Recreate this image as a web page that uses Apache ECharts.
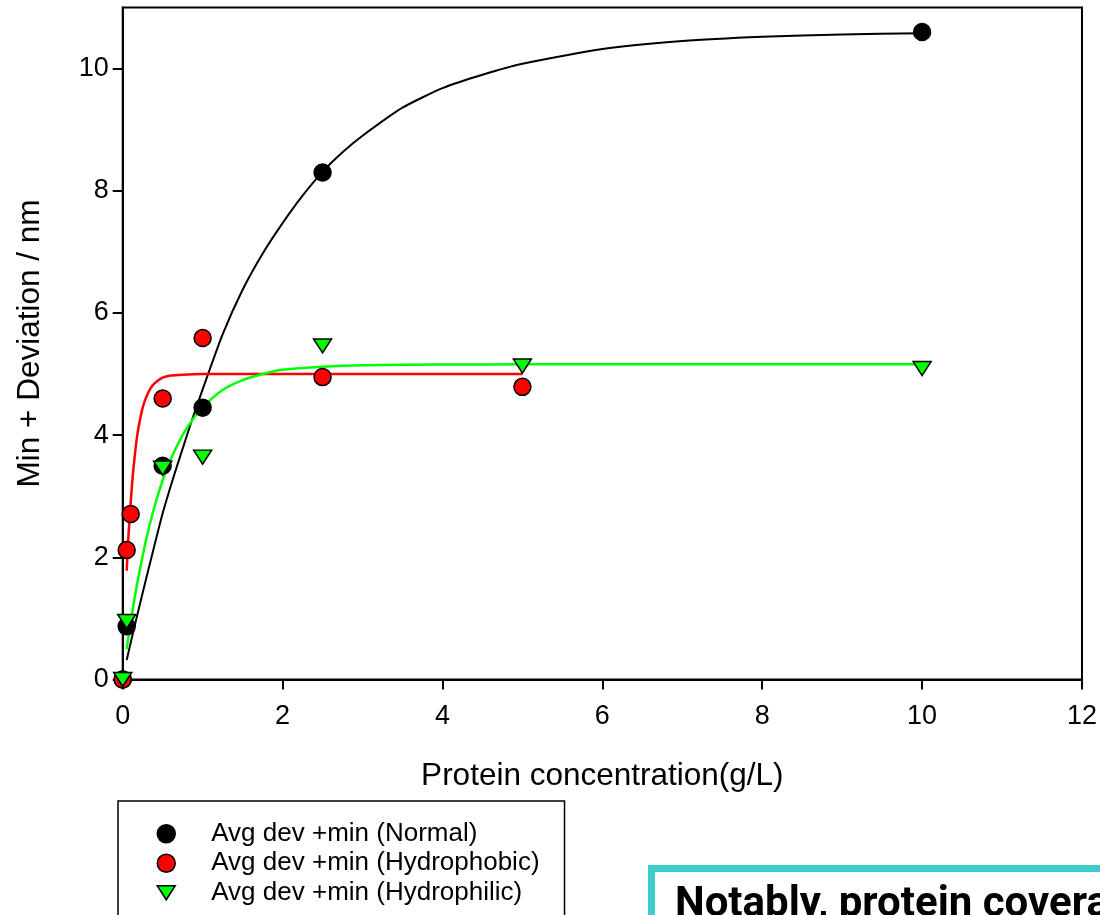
<!DOCTYPE html>
<html><head><meta charset="utf-8">
<script src="https://cdn.jsdelivr.net/npm/echarts@6/dist/echarts.min.js"></script>
<style>html,body{margin:0;padding:0;background:#fff}#c{width:1100px;height:915px}</style>
</head><body><div id="c"></div>
<script>
// ---- data ----
const xTicks = [0, 2, 4, 6, 8, 10, 12];
const yTicks = [0, 2, 4, 6, 8, 10];

const normalX = [0, 0.05, 0.5, 1, 2.5, 10];
const normalY = [0, 0.87, 3.5, 4.45, 8.3, 10.6];
const hydrophobicX = [0, 0.05, 0.1, 0.5, 1, 2.5, 5];
const hydrophobicY = [0, 2.12, 2.71, 4.6, 5.59, 4.95, 4.79];
const hydrophilicX = [0, 0.05, 0.5, 1, 2.5, 5, 10];
const hydrophilicY = [0, 0.95, 3.46, 3.64, 5.46, 5.13, 5.09];

// fitted curves, points
const normalFitX = [0.05, 0.15, 0.25, 0.375, 0.5, 0.625, 0.75, 0.875, 1, 1.25, 1.5, 1.75, 2, 2.25, 2.5, 2.75, 3, 3.5, 4, 4.5, 5, 6, 7, 8, 9, 10];
const normalFitY = [0.32, 0.88, 1.42, 2.08, 2.72, 3.27, 3.78, 4.28, 4.75, 5.65, 6.38, 6.97, 7.47, 7.92, 8.31, 8.63, 8.9, 9.36, 9.68, 9.9, 10.08, 10.32, 10.45, 10.52, 10.56, 10.58];
const hydrophobicFitX = [0.05, 0.075, 0.1, 0.125, 0.15, 0.175, 0.2, 0.25, 0.3, 0.35, 0.4, 0.5, 0.6, 0.75, 1, 2, 5];
const hydrophobicFitY = [1.78, 2.42, 2.9, 3.33, 3.65, 3.93, 4.14, 4.45, 4.64, 4.77, 4.85, 4.94, 4.975, 4.99, 5.0, 5.0, 5.0];
const hydrophilicFitX = [0.05, 0.1, 0.15, 0.2, 0.3, 0.4, 0.5, 0.6, 0.75, 0.9, 1, 1.25, 1.5, 1.75, 2, 2.5, 3, 4, 5, 10];
const hydrophilicFitY = [0.5, 0.94, 1.34, 1.7, 2.33, 2.84, 3.26, 3.6, 4.0, 4.3, 4.46, 4.74, 4.9, 5.0, 5.07, 5.12, 5.145, 5.155, 5.16, 5.16];

const seriesNames = ['Avg dev +min (Normal)', 'Avg dev +min (Hydrophobic)', 'Avg dev +min (Hydrophilic)'];
const xTitle = 'Protein concentration(g/L)';
const yTitle = 'Min + Deviation / nm';
const noteText = 'Notably, protein coverage';

// ---- build ----
const pair = (xs, ys) => xs.map((x, i) => [x, ys[i]]);
const FONT = 'Arial, "Liberation Sans", sans-serif';
const chart = echarts.init(document.getElementById('c'), null, {renderer: 'canvas'});

const fitLine = (data, color, w) => ({
  type: 'line', data, smooth: 0.2, symbol: 'none',
  lineStyle: {color, width: w}, z: 2, silent: true, legendHoverLink: false
});
// downward triangle, padded bounding box so it sits like the circle markers
const trianglePath = 'path://M-0.5,-2 M0,0 L18,0 L9,14 Z M18.5,16';

chart.setOption({
  animation: false,
  backgroundColor: '#fff',
  grid: {left: 122.7, right: 17.3, top: 7.5, bottom: 235.5, show: true, borderColor: '#000', borderWidth: 2},
  xAxis: {
    type: 'value', min: 0, max: 12, interval: 2,
    name: xTitle, nameLocation: 'middle', nameGap: 81,
    nameTextStyle: {fontSize: 31.5, color: '#000', fontFamily: FONT},
    axisLine: {show: true, onZero: false, lineStyle: {color: '#000', width: 2}},
    axisTick: {show: true, inside: false, length: 10, lineStyle: {color: '#000', width: 2}, customValues: xTicks},
    axisLabel: {fontSize: 27, color: '#000', fontFamily: FONT, margin: 23.5, customValues: xTicks},
    splitLine: {show: false}
  },
  yAxis: {
    type: 'value', min: 0, max: 11, interval: 2,
    name: yTitle, nameLocation: 'middle', nameGap: 76, nameRotate: 90,
    nameTextStyle: {fontSize: 31.5, color: '#000', fontFamily: FONT},
    axisLine: {show: true, onZero: false, lineStyle: {color: '#000', width: 2}},
    axisTick: {show: true, inside: false, length: 10, lineStyle: {color: '#000', width: 2}, customValues: yTicks},
    axisLabel: {fontSize: 27, color: '#000', fontFamily: FONT, margin: 14, customValues: yTicks},
    splitLine: {show: false}
  },
  legend: {
    orient: 'vertical', left: 118, top: 801,
    padding: [18, 25, 300, 38],
    borderColor: '#000', borderWidth: 1.5,
    itemGap: 0, itemWidth: 80, itemHeight: 18,
    symbolKeepAspect: true,
    textStyle: {fontSize: 26, lineHeight: 29.5, color: '#000', fontFamily: FONT},
    data: [
      {name: seriesNames[0], icon: 'circle', itemStyle: {color: '#000', borderColor: '#000', borderWidth: 1.5}},
      {name: seriesNames[1], icon: 'circle', itemStyle: {color: '#ff0000', borderColor: '#000', borderWidth: 1.5}},
      {name: seriesNames[2], icon: trianglePath, itemStyle: {color: '#00ff00', borderColor: '#000', borderWidth: 1.5}}
    ],
    selectedMode: false
  },
  graphic: [
    {type: 'rect', left: 648, top: 865, silent: true, z: 100,
     shape: {x: 0, y: 0, width: 600, height: 200},
     style: {fill: '#fff', stroke: '#3dcdcd', lineWidth: 7}},
    {type: 'text', left: 675, top: 884, silent: true, z: 101,
     style: {text: noteText, font: 'bold 42px Roboto, "Noto Sans", sans-serif', fill: '#000'}}
  ],
  series: [
    fitLine(pair(normalFitX, normalFitY), '#000', 2),
    fitLine(pair(hydrophobicFitX, hydrophobicFitY), '#ff0000', 2.5),
    fitLine(pair(hydrophilicFitX, hydrophilicFitY), '#00ff00', 2.5),
    {type: 'scatter', name: seriesNames[0], data: pair(normalX, normalY), symbol: 'circle', symbolSize: 17,
     itemStyle: {color: '#000', borderColor: '#000', borderWidth: 1.5, opacity: 1}, z: 3},
    {type: 'scatter', name: seriesNames[1], data: pair(hydrophobicX, hydrophobicY), symbol: 'circle', symbolSize: 17,
     itemStyle: {color: '#ff0000', borderColor: '#000', borderWidth: 1.5, opacity: 1}, z: 4},
    {type: 'scatter', name: seriesNames[2], data: pair(hydrophilicX, hydrophilicY), symbol: trianglePath, symbolSize: [19, 18],
     itemStyle: {color: '#00ff00', borderColor: '#000', borderWidth: 1.5, opacity: 1}, z: 5}
  ]
});
</script>
</body></html>
